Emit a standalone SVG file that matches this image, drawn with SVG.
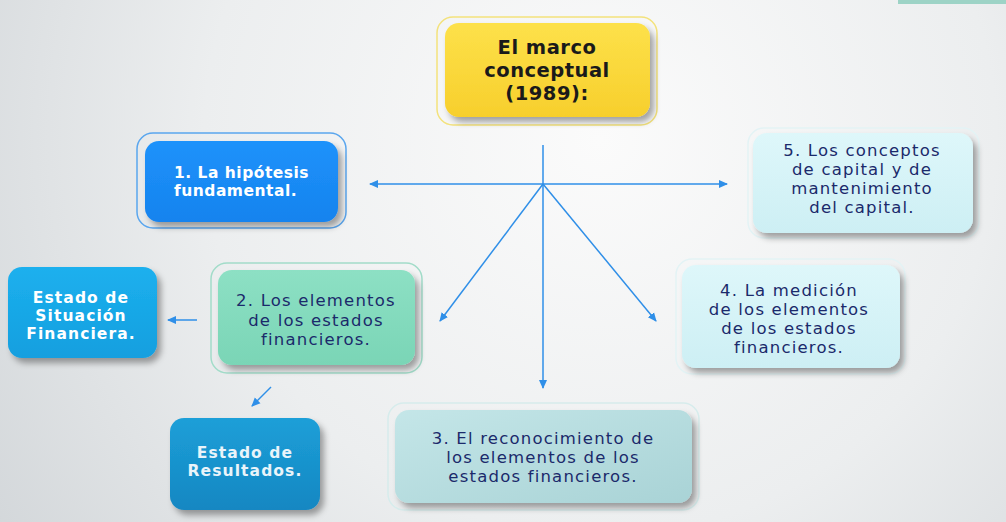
<svg xmlns="http://www.w3.org/2000/svg" width="1006" height="522" viewBox="0 0 1006 522">
<defs>
<radialGradient id="bg" cx="600" cy="140" r="720" gradientUnits="userSpaceOnUse">
<stop offset="0" stop-color="#fbfbfb"/>
<stop offset="0.55" stop-color="#eceeef"/>
<stop offset="1" stop-color="#d3d7da"/>
</radialGradient>
<linearGradient id="gYel" x1="0" y1="0" x2="0" y2="1"><stop offset="0" stop-color="#fde14a"/><stop offset="1" stop-color="#f7cf2c"/></linearGradient>
<linearGradient id="gBlue" x1="0" y1="0" x2="0" y2="1"><stop offset="0" stop-color="#1d92fb"/><stop offset="1" stop-color="#1683ee"/></linearGradient>
<linearGradient id="gCyan" x1="0" y1="0" x2="0" y2="1"><stop offset="0" stop-color="#1cb0ee"/><stop offset="1" stop-color="#149fdf"/></linearGradient>
<linearGradient id="gRes" x1="0" y1="0" x2="0" y2="1"><stop offset="0" stop-color="#1c9fd8"/><stop offset="1" stop-color="#1587c2"/></linearGradient>
<linearGradient id="gLight" x1="0" y1="0" x2="0" y2="1"><stop offset="0" stop-color="#def7fa"/><stop offset="1" stop-color="#cdeff4"/></linearGradient>
<linearGradient id="gGreen" x1="0" y1="0" x2="0" y2="1"><stop offset="0" stop-color="#8de0c4"/><stop offset="1" stop-color="#7ad5b6"/></linearGradient>
<linearGradient id="gTeal" x1="0" y1="0" x2="1" y2="1"><stop offset="0" stop-color="#c4e6e8"/><stop offset="1" stop-color="#a9d3d6"/></linearGradient>
<filter id="sh" x="-20%" y="-20%" width="140%" height="150%">
<feDropShadow dx="4" dy="5" stdDeviation="3" flood-color="#000" flood-opacity="0.35"/>
</filter>
<marker id="ah" markerWidth="10" markerHeight="10" refX="8" refY="5" orient="auto" markerUnits="userSpaceOnUse">
<path d="M0,1 L9,5 L0,9 Z" fill="#2f8fe8"/>
</marker>
<style>
.frame{fill:none;stroke-width:1.5}
.node{filter:url(#sh)}
.tb{font-family:"DejaVu Sans","Liberation Sans",sans-serif;font-weight:bold;text-anchor:middle}
.tr{font-family:"DejaVu Sans","Liberation Sans",sans-serif;font-size:16.5px;letter-spacing:1.2px;fill:#1b2a6b;text-anchor:middle}
.con{stroke:#2f8fe8;stroke-width:1.5;fill:none}
</style>
</defs>
<rect width="1006" height="522" fill="url(#bg)"/>
<rect x="898" y="0" width="108" height="4" fill="#9dd3c6"/>

<g id="connectors">
<line class="con" x1="543" y1="145" x2="543" y2="388" marker-end="url(#ah)"/>
<line class="con" x1="543" y1="184" x2="370" y2="184" marker-end="url(#ah)"/>
<line class="con" x1="543" y1="184" x2="727" y2="184" marker-end="url(#ah)"/>
<line class="con" x1="543" y1="184" x2="440" y2="321" marker-end="url(#ah)"/>
<line class="con" x1="543" y1="184" x2="656" y2="321" marker-end="url(#ah)"/>
<line class="con" x1="197" y1="320" x2="168" y2="320" marker-end="url(#ah)"/>
<line class="con" x1="271" y1="387" x2="252" y2="406" marker-end="url(#ah)"/>
</g>

<g id="marco">
<rect class="frame" x="437" y="17" width="220" height="108" rx="16" stroke="#f3e27c" fill="#fbf5d6" fill-opacity="0.4"/>
<rect class="node" x="445" y="23" width="205" height="94" rx="14" fill="url(#gYel)"/>
<text class="tb" font-size="19.5" letter-spacing="0.5" fill="#1a1a1a"><tspan x="547" y="54">El marco</tspan><tspan x="547" y="77">conceptual</tspan><tspan x="547" y="100">(1989):</tspan></text>
</g>

<g id="n1">
<rect class="frame" x="137" y="133" width="209" height="95" rx="16" stroke="#5aa6ee" fill="#e6f1fb" fill-opacity="0.5"/>
<rect class="node" x="145" y="141" width="193" height="81" rx="14" fill="url(#gBlue)"/>
<text class="tb" font-size="15.5" letter-spacing="0.5" fill="#ffffff" style="text-anchor:start"><tspan x="174" y="177.5">1. La hipótesis</tspan><tspan x="174" y="195.5">fundamental.</tspan></text>
</g>

<g id="n5">
<rect class="frame" x="748" y="128" width="231" height="110" rx="16" stroke="#e3f3f5" fill="#eef7f8" fill-opacity="0.5"/>
<rect class="node" x="753" y="133" width="220" height="100" rx="14" fill="url(#gLight)"/>
<text class="tr"><tspan x="862" y="155.5">5. Los conceptos</tspan><tspan x="862" y="174.8">de capital y de</tspan><tspan x="862" y="194.1">mantenimiento</tspan><tspan x="862" y="213.4">del capital.</tspan></text>
</g>

<g id="situacion">
<rect class="node" x="8" y="267" width="149" height="91" rx="14" fill="url(#gCyan)"/>
<text class="tb" font-size="15.5" letter-spacing="1.1" fill="#ffffff"><tspan x="81" y="303">Estado de</tspan><tspan x="81" y="321">Situación</tspan><tspan x="81" y="339">Financiera.</tspan></text>
</g>

<g id="n2">
<rect class="frame" x="211" y="263" width="211" height="110" rx="16" stroke="#a2dcc9" fill="#eaf6f1" fill-opacity="0.5"/>
<rect class="node" x="218" y="270" width="197" height="95" rx="14" fill="url(#gGreen)"/>
<text class="tr"><tspan x="316" y="306.2">2. Los elementos</tspan><tspan x="316" y="325.5">de los estados</tspan><tspan x="316" y="344.8">financieros.</tspan></text>
</g>

<g id="n4">
<rect class="frame" x="676" y="259" width="229" height="115" rx="16" stroke="#e3f3f5" fill="#eef7f8" fill-opacity="0.5"/>
<rect class="node" x="682" y="265" width="218" height="103" rx="14" fill="url(#gLight)"/>
<text class="tr"><tspan x="789" y="295.5">4. La medición</tspan><tspan x="789" y="314.8">de los elementos</tspan><tspan x="789" y="334.1">de los estados</tspan><tspan x="789" y="353.4">financieros.</tspan></text>
</g>

<g id="resultados">
<rect class="node" x="170" y="418" width="150" height="92" rx="14" fill="url(#gRes)"/>
<text class="tb" font-size="15.5" letter-spacing="1.1" fill="#e9f4fa"><tspan x="245" y="458">Estado de</tspan><tspan x="245" y="476">Resultados.</tspan></text>
</g>

<g id="n3">
<rect class="frame" x="388" y="403" width="311" height="107" rx="16" stroke="#d6ecec" fill="#e8f3f3" fill-opacity="0.5"/>
<rect class="node" x="395" y="410" width="297" height="93" rx="14" fill="url(#gTeal)"/>
<text class="tr"><tspan x="543" y="443.7">3. El reconocimiento de</tspan><tspan x="543" y="463">los elementos de los</tspan><tspan x="543" y="482.3">estados financieros.</tspan></text>
</g>
</svg>
